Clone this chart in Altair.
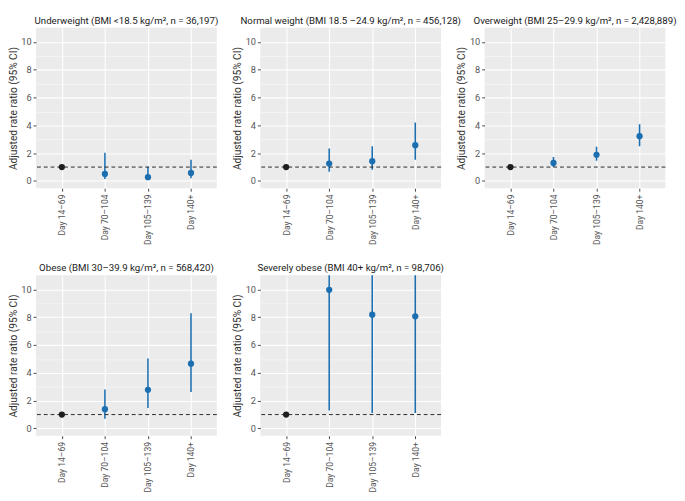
import altair as alt
import pandas as pd

periods = ["Day 14–69", "Day 70–104", "Day 105–139", "Day 140+"]

titles = [
    "Underweight (BMI <18.5 kg/m², n = 36,197)",
    "Normal weight (BMI 18.5 –24.9 kg/m², n = 456,128)",
    "Overweight (BMI 25–29.9 kg/m², n = 2,428,889)",
    "Obese (BMI 30–39.9 kg/m², n = 568,420)",
    "Severely obese (BMI 40+ kg/m², n = 98,706)",
]

estimates = [
    [1.0, 0.51, 0.27, 0.58],
    [1.0, 1.25, 1.42, 2.58],
    [1.0, 1.30, 1.88, 3.22],
    [1.0, 1.39, 2.78, 4.66],
    [1.0, 9.98, 8.19, 8.07],
]
lower = [
    [1.0, 0.14, 0.07, 0.19],
    [1.0, 0.67, 0.81, 1.53],
    [1.0, 1.00, 1.46, 2.50],
    [1.0, 0.70, 1.48, 2.62],
    [1.0, 1.30, 1.11, 1.11],
]
upper = [
    [1.0, 2.04, 1.02, 1.52],
    [1.0, 2.34, 2.50, 4.20],
    [1.0, 1.72, 2.46, 4.08],
    [1.0, 2.81, 5.03, 8.30],
    [1.0, 78.0, 61.0, 60.0],
]
reference_value = 1.0

BLUE = "#1b6fb1"
BG = "#ebebeb"
FONT = "Roboto"

W, H = 187, 166


def yaxis():
    return alt.Axis(values=list(range(0, 11)), title="Adjusted rate ratio (95% CI)",
                    labelExpr="datum.value % 2 === 0 ? datum.label : ''",
                    labelOverlap=False,
                    grid=True, gridColor="white",
                    gridWidth={"condition": {"test": "datum.value % 2 === 0", "value": 1.1}, "value": 0.5},
                    tickOpacity={"condition": {"test": "datum.value % 2 === 0", "value": 1}, "value": 0},
                    domain=False, tickSize=3, tickColor="#444",
                    labelColor="#555", labelFontSize=9.5, labelFont=FONT, labelPadding=2,
                    titleFont=FONT, titleFontSize=10.5, titleFontWeight="normal",
                    titleColor="#333", titlePadding=3)


def panel(i):
    df = pd.DataFrame({
        "period": periods,
        "est": estimates[i],
        "lo": lower[i],
        "hi": upper[i],
        "ref": ["ref", "cmp", "cmp", "cmp"],
    })
    x = alt.X("period:N", sort=periods, title=None,
              scale=alt.Scale(type="point", padding=0.6),
              axis=alt.Axis(labelAngle=-90, labelAlign="right", labelBaseline="middle",
                            grid=True, gridColor="white", gridWidth=1.1,
                            domain=False, tickSize=3, tickColor="#444",
                            labelColor="#555", labelFontSize=8.8, labelFont=FONT,
                            labelPadding=3))
    yscale = alt.Scale(domain=[-0.525, 11.025], nice=False, zero=False)
    base = alt.Chart(df)
    bars = base.transform_filter("datum.ref == 'cmp'").mark_rule(
        color=BLUE, strokeWidth=1.6, clip=True
    ).encode(x=x, y=alt.Y("lo:Q", scale=yscale, axis=yaxis()), y2="hi:Q")
    dash = alt.Chart(pd.DataFrame({"v": [reference_value]})).mark_rule(
        color="#222", strokeDash=[4, 3], strokeWidth=1
    ).encode(y=alt.Y("v:Q", scale=yscale, axis=yaxis()))
    pts = base.mark_circle(size=42, opacity=1, clip=True).encode(
        x=x,
        y=alt.Y("est:Q", scale=yscale, axis=yaxis()),
        color=alt.Color("ref:N", scale=alt.Scale(domain=["ref", "cmp"], range=["#1e1e1e", BLUE]),
                        legend=None),
    )
    return alt.layer(bars, dash, pts).properties(
        width=W, height=H,
        title=alt.TitleParams(titles[i], font=FONT, fontSize=10, fontWeight="normal",
                              color="#222", offset=2, anchor="middle"),
    )


chart = alt.ConcatChart(
    concat=[panel(i) for i in range(5)],
    columns=3,
    spacing={"row": 90, "column": 45},
    bounds="flush",
    padding=0,
).configure_view(fill=BG, stroke=None)

chart.save("out.html", embed_options={"renderer": "svg", "actions": False})
